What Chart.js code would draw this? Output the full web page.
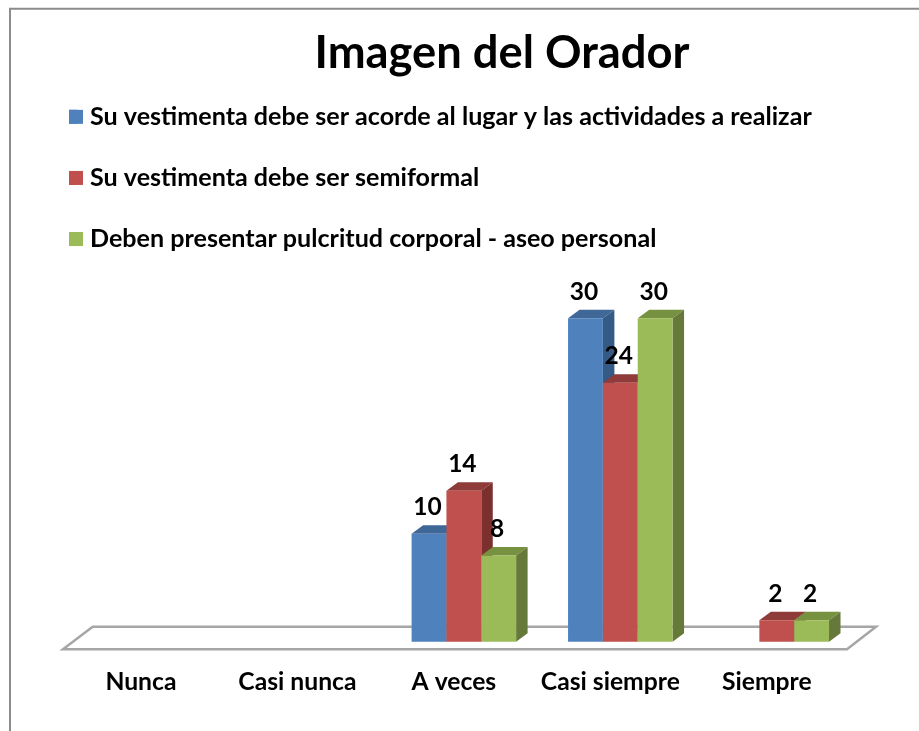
<!DOCTYPE html>
<html>
<head>
<meta charset="utf-8">
<style>html,body{margin:0;padding:0;background:#fff}canvas{display:block}</style>
<script src="https://cdn.jsdelivr.net/npm/chart.js@4"></script>
</head>
<body>
<canvas id="c" width="919" height="731"></canvas>
<script>
const categories = ['Nunca', 'Casi nunca', 'A veces', 'Casi siempre', 'Siempre'];
const vestimentaLugar = [null, null, 10, 30, null];
const vestimentaSemiformal = [null, null, 14, 24, 2];
const pulcritud = [null, null, 8, 30, 2];
const seriesNames = [
  'Su vestimenta debe ser acorde al lugar y las actividades a realizar',
  'Su vestimenta debe ser semiformal',
  'Deben presentar pulcritud corporal - aseo personal'
];
const frontColors = ['#4F81BD', '#C0504D', '#9BBB59'];
const topColors = ['#3F6797', '#8E3B39', '#76913F'];
const sideColors = ['#355A86', '#7B302E', '#67793A'];
const DEPTH_X = 11.5, DEPTH_Y = 8.5;
const LEGEND_BOX = 14;
const FONT = 'Lato, Carlito, Calibri, sans-serif';

const look3d = {
  id: 'look3d',
  afterLayout(chart) {
    const t = chart.titleBlock;
    t.left += 58; t.right += 58;
    const l = chart.legend;
    l.top -= 8; l.bottom -= 8;
  },
  beforeDraw(chart) {
    const c = chart.ctx;
    c.save();
    c.strokeStyle = '#8c8c8c';
    c.lineWidth = 2;
    c.beginPath();
    c.moveTo(10, 731); c.lineTo(10, 8.7); c.lineTo(919, 8.7);
    c.stroke();
    c.restore();
  },
  beforeDatasetsDraw(chart) {
    const c = chart.ctx, a = chart.chartArea;
    c.save();
    c.strokeStyle = '#a6a6a6';
    c.lineWidth = 2.5;
    c.lineJoin = 'miter';
    c.beginPath();
    c.moveTo(a.left - 9.7, a.bottom + 7.5);
    c.lineTo(a.right - 8, a.bottom + 7.5);
    c.lineTo(a.right + 21, a.bottom - 15);
    c.lineTo(a.left + 20, a.bottom - 15);
    c.closePath();
    c.stroke();
    chart.data.datasets.forEach((ds, i) => {
      chart.getDatasetMeta(i).data.forEach((bar, j) => {
        if (ds.data[j] == null) return;
        const p = bar.getProps(['x', 'y', 'base', 'width'], true);
        const l = p.x - p.width / 2, r = p.x + p.width / 2;
        c.fillStyle = topColors[i];
        c.beginPath();
        c.moveTo(l, p.y); c.lineTo(l + DEPTH_X, p.y - DEPTH_Y);
        c.lineTo(r + DEPTH_X, p.y - DEPTH_Y); c.lineTo(r, p.y);
        c.closePath(); c.fill();
        c.fillStyle = sideColors[i];
        c.beginPath();
        c.moveTo(r, p.y); c.lineTo(r + DEPTH_X, p.y - DEPTH_Y);
        c.lineTo(r + DEPTH_X, p.base - DEPTH_Y); c.lineTo(r, p.base);
        c.closePath(); c.fill();
        bar.draw(c, a);
      });
    });
    c.restore();
    return false;
  },
  afterDraw(chart) {
    const c = chart.ctx;
    c.save();
    // legend swatches: widen the narrow library box to a full square
    chart.legend.legendHitBoxes.forEach((h, i) => {
      c.fillStyle = frontColors[i];
      c.fillRect(h.left, h.top + (h.height - LEGEND_BOX) / 2, LEGEND_BOX, LEGEND_BOX);
    });
    c.font = 'bold 24.5px ' + FONT;
    c.fillStyle = '#000';
    c.textAlign = 'center';
    c.textBaseline = 'middle';
    chart.data.datasets.forEach((ds, i) => {
      chart.getDatasetMeta(i).data.forEach((bar, j) => {
        const v = ds.data[j];
        if (v == null) return;
        const p = bar.getProps(['x', 'y'], true);
        c.fillText(String(v), p.x - 1.5, p.y - 26.5);
      });
    });
    c.restore();
  }
};

new Chart(document.getElementById('c'), {
  type: 'bar',
  plugins: [look3d],
  data: {
    labels: categories,
    datasets: [
      { label: seriesNames[0], data: vestimentaLugar, backgroundColor: frontColors[0] },
      { label: seriesNames[1], data: vestimentaSemiformal, backgroundColor: frontColors[1] },
      { label: seriesNames[2], data: pulcritud, backgroundColor: frontColors[2] }
    ]
  },
  options: {
    responsive: false,
    animation: false,
    layout: { padding: { left: 33, right: 64, top: 0, bottom: 0 } },
    datasets: { bar: { categoryPercentage: 0.668, barPercentage: 1 } },
    plugins: {
      tooltip: { enabled: false },
      title: {
        display: true,
        text: 'Imagen del Orador',
        color: '#000',
        font: { family: FONT, size: 45.3, weight: 'bold', lineHeight: 1 },
        padding: { top: 31, bottom: 0 }
      },
      legend: {
        display: true,
        position: 'top',
        align: 'start',
        labels: {
          boxWidth: 8.5,
          boxHeight: LEGEND_BOX,
          padding: 36,
          color: '#000',
          font: { family: FONT, size: 25.1, weight: 'bold', lineHeight: 1 }
        }
      }
    },
    scales: {
      x: {
        afterFit(axis) { axis.height = 89.3; },
        grid: { display: false },
        border: { display: false },
        ticks: { color: '#000', padding: 17.3, labelOffset: -10, font: { family: FONT, size: 24.7, weight: 'bold' } }
      },
      y: {
        min: 0,
        max: 34.5,
        afterFit(axis) { axis.width = 39.7; },
        ticks: { display: false },
        grid: { display: false },
        border: { display: false }
      }
    }
  }
});
</script>
</body>
</html>
